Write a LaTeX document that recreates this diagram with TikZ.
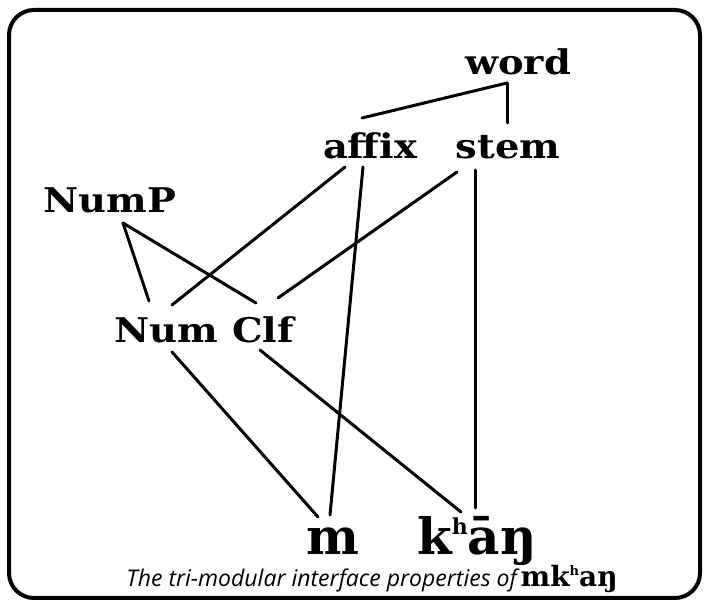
\documentclass[tikz,border=0pt]{standalone}
\usepackage{fontspec}
\setmainfont{DejaVu Serif}
\newfontfamily\lblfont[FakeStretch=1.13]{DejaVu Serif}
\newfontfamily\capfont{Open Sans}
\usetikzlibrary{calc}

\newcommand{\suph}[1]{\raisebox{0.42em}{\fontsize{#1}{#1}\selectfont h}}

\begin{document}
\begin{tikzpicture}[
  x=1pt, y=-1pt,
  lbl/.style={anchor=base, inner sep=0pt, font=\lblfont\fontsize{34}{34}\selectfont\bfseries},
  seg/.style={anchor=base, inner sep=0pt, font=\fontsize{50}{50}\selectfont\bfseries},
  capt/.style={anchor=base, inner sep=0pt, font=\fontsize{23}{23}\selectfont},
  ln/.style={line width=3pt, line cap=round}
]
\useasboundingbox (0,0) rectangle (705,601);
\draw[line width=4pt, rounded corners=25pt] (9,10) rectangle (700,598);

% --- Morphology (word) ---
\node[lbl] (word)  at (518,75)  {word};
\node[lbl] (affix) at (370,159) {affix};
\node[lbl] (stem)  at (508,159) {stem};

% --- Syntax (NumP) ---
\node[lbl] (nump) at (110,213) {NumP};
\node[lbl] (num)  at (166,343) {Num};
\node[lbl] (clf)  at (263,343) {Clf};

% --- Phonology ---
\node[seg] (m)    at (333,555) {m};
\node[seg] (khan) at (477,555) {k\suph{22}āŋ};

\node[capt] (cap) at (372,587)
  {{\capfont\itshape The tri-modular interface properties of}\,{\bfseries\fontsize{28}{28}\selectfont mk\suph{13}aŋ}};

\draw[ln] ($(word.base)+(-11,8)$)  -- ($(affix.base)+(-8,-41)$);
\draw[ln] ($(word.base)+(-11,8)$)  -- ($(stem.base)+(-1,-36)$);

\draw[ln] ($(affix.base)+(-25,8)$) -- ($(num.base)+(6,-38)$);
\draw[ln] ($(affix.base)+(-7,8)$)  -- ($(m.base)+(-3,-40)$);
\draw[ln] ($(stem.base)+(-51,13)$) -- ($(clf.base)+(15,-45)$);
\draw[ln] ($(stem.base)+(-33,11)$) -- ($(khan.base)+(-2,-47)$);

\draw[ln] ($(nump.base)+(13,10)$)  -- ($(num.base)+(-17,-42)$);
\draw[ln] ($(nump.base)+(13,10)$)  -- ($(clf.base)+(-7,-40)$);

\draw[ln] ($(num.base)+(6,9)$)     -- ($(m.base)+(-15,-38)$);
\draw[ln] ($(clf.base)+(-3,7)$)    -- ($(khan.base)+(-16,-43)$);

\end{tikzpicture}
\end{document}
